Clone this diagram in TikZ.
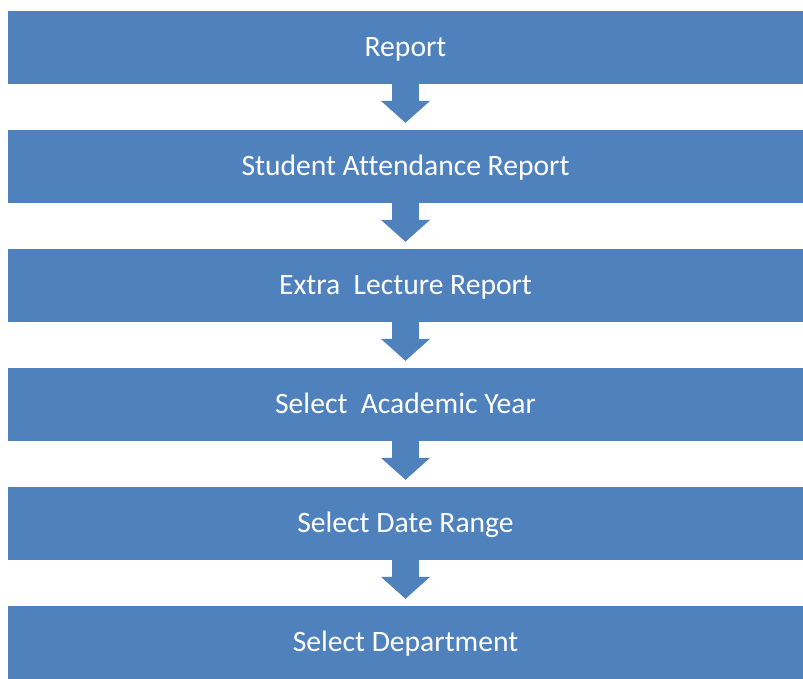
\documentclass[tikz,border=0pt]{standalone}
\usepackage{fontspec}
\setmainfont[Ligatures=NoCommon]{Carlito}
\usetikzlibrary{arrows.meta}
\definecolor{boxblue}{HTML}{4F81BD}
\tikzset{box/.style={fill=boxblue,minimum width=795pt,minimum height=73pt,inner sep=0pt,text height=19pt,text depth=2pt,text=white,font=\fontsize{29.6}{34}\selectfont},flow/.style={boxblue,line width=27pt,-{Triangle[width=48pt,length=22pt]},shorten >=7pt}}
\begin{document}
\begin{tikzpicture}[x=1pt,y=-1pt]
\useasboundingbox(0,0)rectangle(803,678);
\foreach\i/\t in{1/Report,2/Student Attendance Report,3/Extra~ Lecture Report,4/Select~ Academic Year,5/Select Date Range,6/Select Department}{\node[box](b\i)at(405.5,47.5+119*\i-119){\t};}
\foreach\a/\b in{1/2,2/3,3/4,4/5,5/6}\draw[flow](b\a.south)--(b\b.north);
\end{tikzpicture}
\end{document}
